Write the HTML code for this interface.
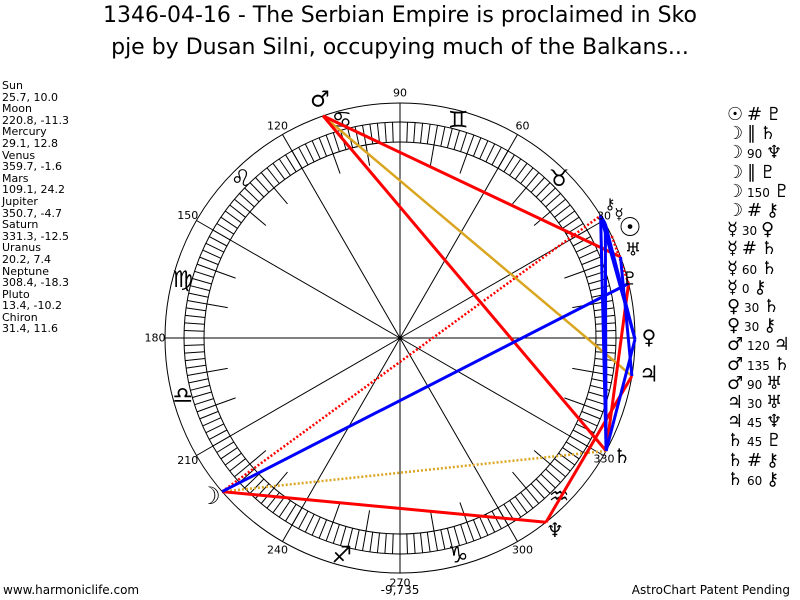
<!DOCTYPE html>
<html><head><meta charset="utf-8"><style>
html,body{margin:0;padding:0;background:#fff;width:800px;height:600px;overflow:hidden;font-family:"DejaVu Sans","Liberation Sans",sans-serif}
.t{position:absolute;left:0;width:800px;text-align:center;font-size:22px;color:#000}
#left{position:absolute;left:2px;top:80px;font-size:11px;line-height:11.6px;color:#000}
#right{position:absolute;left:727px;top:106px;font-size:12px;line-height:18.2px;color:#000}
#right b{font-weight:normal;font-size:18px}
.f{position:absolute;top:583px;font-size:12px}
</style></head><body>
<div class="t" style="top:3px">1346-04-16 - The Serbian Empire is proclaimed in Sko</div>
<div class="t" style="top:35px">pje by Dusan Silni, occupying much of the Balkans...</div>
<div id="left">Sun<br>25.7, 10.0<br>Moon<br>220.8, -11.3<br>Mercury<br>29.1, 12.8<br>Venus<br>359.7, -1.6<br>Mars<br>109.1, 24.2<br>Jupiter<br>350.7, -4.7<br>Saturn<br>331.3, -12.5<br>Uranus<br>20.2, 7.4<br>Neptune<br>308.4, -18.3<br>Pluto<br>13.4, -10.2<br>Chiron<br>31.4, 11.6</div>
<div id="right">
<b>☉</b> <b>#</b> <b>♇</b><br><b>☽</b> <b>∥</b> <b>♄</b><br><b>☽</b> 90 <b>♆</b><br><b>☽</b> <b>∥</b> <b>♇</b><br><b>☽</b> 150 <b>♇</b><br><b>☽</b> <b>#</b> <b>⚷</b><br><b>☿</b> 30 <b>♀</b><br><b>☿</b> <b>#</b> <b>♄</b><br><b>☿</b> 60 <b>♄</b><br><b>☿</b> 0 <b>⚷</b><br><b>♀</b> 30 <b>♄</b><br><b>♀</b> 30 <b>⚷</b><br><b>♂</b> 120 <b>♃</b><br><b>♂</b> 135 <b>♄</b><br><b>♂</b> 90 <b>♅</b><br><b>♃</b> 30 <b>♅</b><br><b>♃</b> 45 <b>♆</b><br><b>♄</b> 45 <b>♇</b><br><b>♄</b> <b>#</b> <b>⚷</b><br><b>♄</b> 60 <b>⚷</b></div>
<div class="f" style="left:3px">www.harmoniclife.com</div>
<div class="f" style="left:0;width:800px;text-align:center">-9,735</div>
<div class="f" style="right:10px">AstroChart Patent Pending</div>
<svg id="s" width="800" height="600" style="position:absolute;left:0;top:0" xmlns="http://www.w3.org/2000/svg"></svg>
<script>
var cx=400,cy=338,s='';
function P(a,r){var t=a*Math.PI/180;return [cx+r*Math.cos(t),cy-r*Math.sin(t)];}
function L(a,b,c,w,d){s+='<line x1="'+a[0].toFixed(1)+'" y1="'+a[1].toFixed(1)+'" x2="'+b[0].toFixed(1)+'" y2="'+b[1].toFixed(1)+'" stroke="'+c+'" stroke-width="'+w+'"'+(d?' stroke-dasharray="'+d+'"':'')+'/>';}
function T(p,txt,sz,anch){s+='<text x="'+p[0].toFixed(1)+'" y="'+p[1].toFixed(1)+'" font-size="'+sz+'" text-anchor="'+(anch||'middle')+'" dominant-baseline="central" font-family="DejaVu Sans,sans-serif">'+txt+'</text>';}
s+='<circle cx="400" cy="338" r="235" fill="none" stroke="#000" stroke-width="1"/>';
s+='<circle cx="400" cy="338" r="216" fill="none" stroke="#000" stroke-width="1"/>';
s+='<circle cx="400" cy="338" r="196" fill="none" stroke="#000" stroke-width="1"/>';
for(var a=0;a<360;a+=2)L(P(a,196),P(a,216),'#000',1);
for(var a=0;a<360;a+=10){if(a%30)L(P(a,175),P(a,196),'#000',1);}
for(var a=0;a<360;a+=30){L(P(a,0),P(a,235),'#000',1);if(a!=0&&a!=30&&a!=330)T(P(a,245),a,11);}
var z=['♈','♉','♊','♋','♌','♍','♎','♏','♐','♑','♒','♓'];
for(var i=0;i<12;i++){if(i==0||i==7||i==11)continue;T(P(15+30*i,225),z[i]+'\uFE0E',23);}
var pl={su:25.7,mo:220.8,me:29.1,ve:359.7,ma:109.1,ju:350.7,sa:331.3,ur:20.2,ne:308.4,pl:13.4,ch:31.4};
function Q(k){return P(pl[k],235);}
var R='#ff0000',B='#0000ff',G='#daa520';
L(Q('mo'),Q('pl'),G,2.5,'2,2');L(Q('mo'),Q('sa'),G,2.5,'2,2');
L(Q('mo'),Q('ch'),R,2.5,'2,2');L(Q('me'),Q('sa'),R,2.5,'2,2');L(Q('sa'),Q('ch'),R,2.5,'2,2');L(Q('su'),Q('pl'),R,2.5,'2,2');
L(Q('ma'),Q('ju'),G,2.5);
L(Q('ma'),Q('sa'),R,3);L(Q('ma'),Q('ur'),R,3);L(Q('mo'),Q('ne'),R,3);
L(Q('ju'),Q('ne'),R,3);L(Q('sa'),Q('pl'),R,3);
L(Q('mo'),Q('pl'),B,3);L(Q('me'),Q('ve'),B,3);L(Q('me'),Q('sa'),B,3);L(Q('ve'),Q('sa'),B,3);L(Q('ve'),Q('ch'),B,3);
L(Q('ju'),Q('ur'),B,3);L(Q('sa'),Q('ch'),B,3);L(Q('me'),Q('ch'),B,3);
s+='<circle cx="400" cy="338" r="2" fill="#000"/>';
T([320,100],'♂',22);T([210,496],'☽',24);T([555,530],'♆',20);T([622,456],'♄',20);T([649,375],'♃',22);
T([649,337],'♀',20);T([630,279],'♇',18);T([633,250],'♅',18);T([630,228],'☉',26);T([610,204],'⚷',15);T([619,214],'☿',15);
T([604,216],'30',11);T([604,459],'330',11);
document.getElementById('s').innerHTML=s;
</script>
</body></html>
